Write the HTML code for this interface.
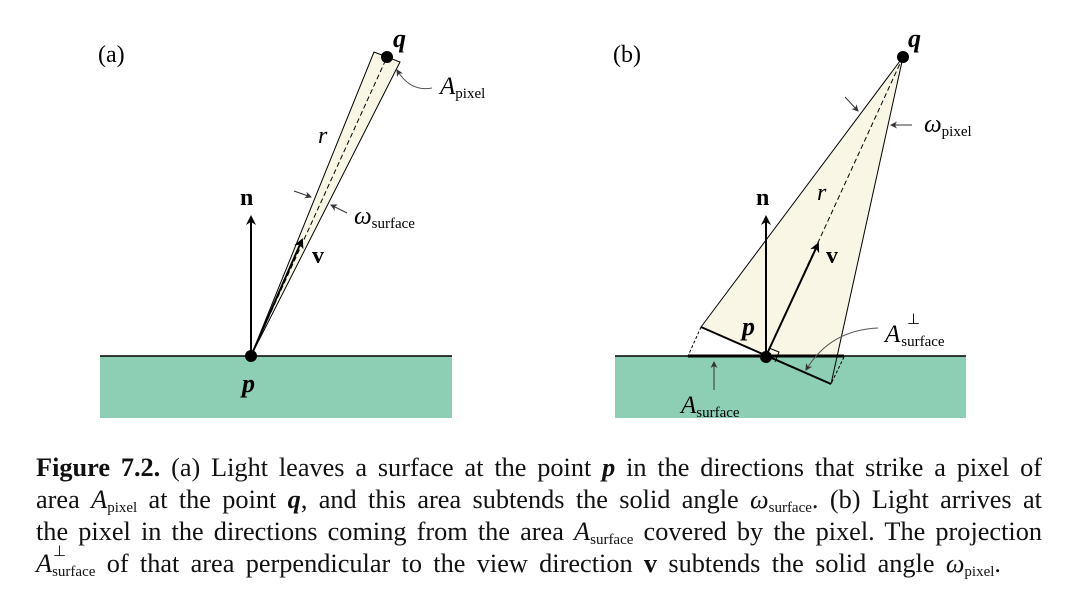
<!DOCTYPE html>
<html><head><meta charset="utf-8"><style>
body{margin:0;width:1078px;height:606px;background:#fff;position:relative;overflow:hidden;font-family:"Liberation Serif",serif;}
.cap{position:absolute;left:36px;width:1006px;font-size:26.3px;line-height:32px;text-align:justify;text-align-last:justify;white-space:nowrap;color:#111}
.cap sub{font-size:15px;vertical-align:-4px;line-height:0}
.as{display:inline-block;position:relative}
.as .p{position:absolute;left:17px;top:-12px;font-size:15px}
</style></head><body>
<svg width="1078" height="450" style="position:absolute;left:0;top:0" font-family="Liberation Serif, serif">
<defs><marker id="ah" markerWidth="10" markerHeight="10" refX="8" refY="5" orient="auto" markerUnits="userSpaceOnUse"><path d="M0,0 L10,5 L0,10 L3,5z" fill="#000"/></marker>
<marker id="sa" markerWidth="7" markerHeight="7" refX="6" refY="3.5" orient="auto" markerUnits="userSpaceOnUse"><path d="M0,0 L7,3.5 L0,7 L2,3.5z" fill="#333"/></marker></defs>
<rect x="100" y="356" width="352" height="62" fill="#8dcfb5"/>
<line x1="100" y1="356" x2="452" y2="356" stroke="#000" stroke-width="1.5"/>
<polygon points="251,356 374,52 400,62" fill="#faf6e6" stroke="#000" stroke-width="1"/>
<line x1="251" y1="356" x2="387" y2="57" stroke="#000" stroke-width="1" stroke-dasharray="5,3"/>
<line x1="251" y1="356" x2="251" y2="217" stroke="#000" stroke-width="2" marker-end="url(#ah)"/>
<line x1="251" y1="356" x2="302" y2="240" stroke="#000" stroke-width="2" marker-end="url(#ah)"/>
<circle cx="251" cy="356" r="6" fill="#000"/>
<circle cx="387" cy="57" r="6" fill="#000"/>
<line x1="294" y1="191" x2="311" y2="197" stroke="#333" stroke-width="1" marker-end="url(#sa)"/>
<line x1="347" y1="213" x2="331" y2="205" stroke="#333" stroke-width="1" marker-end="url(#sa)"/>
<path d="M432,88 Q410,92 397,70" fill="none" stroke="#555" stroke-width="1" marker-end="url(#sa)"/>
<text x="98" y="62" font-size="24">(a)</text>
<text x="393" y="47" font-size="26" font-weight="bold" font-style="italic">q</text>
<text x="440" y="94" font-size="25" font-style="italic">A<tspan font-size="15" font-style="normal" dy="4">pixel</tspan></text>
<text x="318" y="143" font-size="24" font-style="italic">r</text>
<text x="240" y="205" font-size="24" font-weight="bold">n</text>
<text x="312" y="263" font-size="24" font-weight="bold">v</text>
<text x="354" y="224" font-size="25" font-style="italic">ω<tspan font-size="15" font-style="normal" dy="4">surface</tspan></text>
<text x="242" y="392" font-size="26" font-weight="bold" font-style="italic">p</text>
<rect x="615" y="356" width="351" height="62" fill="#8dcfb5"/>
<polygon points="903,57 701,327 766,356 838,356" fill="#faf6e6"/>
<line x1="903" y1="57" x2="701" y2="327" stroke="#000" stroke-width="1"/>
<line x1="903" y1="57" x2="831" y2="384" stroke="#000" stroke-width="1"/>
<line x1="903" y1="57" x2="766" y2="356" stroke="#000" stroke-width="1" stroke-dasharray="5,3"/>
<line x1="615" y1="356" x2="966" y2="356" stroke="#000" stroke-width="1.5"/>
<line x1="688" y1="356" x2="844" y2="356" stroke="#000" stroke-width="3"/>
<line x1="701" y1="327" x2="831" y2="384" stroke="#000" stroke-width="2"/>
<line x1="701" y1="327" x2="688" y2="356" stroke="#000" stroke-width="1" stroke-dasharray="3,2"/>
<line x1="844" y1="357" x2="831" y2="384" stroke="#000" stroke-width="1" stroke-dasharray="3,2"/>
<polyline points="769,348 779,352 775,362" fill="none" stroke="#000" stroke-width="1"/>
<line x1="766" y1="356" x2="766" y2="217" stroke="#000" stroke-width="2" marker-end="url(#ah)"/>
<line x1="766" y1="356" x2="818" y2="244" stroke="#000" stroke-width="2" marker-end="url(#ah)"/>
<circle cx="766" cy="357" r="6" fill="#000"/>
<circle cx="903" cy="57" r="6" fill="#000"/>
<line x1="845" y1="97" x2="858" y2="111" stroke="#333" stroke-width="1" marker-end="url(#sa)"/>
<line x1="912" y1="125" x2="891" y2="125" stroke="#333" stroke-width="1" marker-end="url(#sa)"/>
<line x1="714" y1="390" x2="714" y2="362" stroke="#333" stroke-width="1" marker-end="url(#sa)"/>
<path d="M878,328 Q830,330 806,370" fill="none" stroke="#555" stroke-width="1" marker-end="url(#sa)"/>
<text x="613" y="62" font-size="24">(b)</text>
<text x="908" y="47" font-size="26" font-weight="bold" font-style="italic">q</text>
<text x="924" y="132" font-size="25" font-style="italic">ω<tspan font-size="15" font-style="normal" dy="4">pixel</tspan></text>
<text x="817" y="200" font-size="24" font-style="italic">r</text>
<text x="756" y="205" font-size="24" font-weight="bold">n</text>
<text x="826" y="263" font-size="24" font-weight="bold">v</text>
<text x="742" y="335" font-size="26" font-weight="bold" font-style="italic">p</text>
<text x="885" y="342" font-size="25" font-style="italic">A<tspan font-size="15" font-style="normal" dx="1" dy="4">surface</tspan></text>
<text x="907" y="324" font-size="15">⊥</text>
<text x="681" y="413" font-size="25" font-style="italic">A<tspan font-size="15" font-style="normal" dy="4">surface</tspan></text>
</svg>
<div class="cap" style="top:452px"><b>Figure 7.2.</b> (a) Light leaves a surface at the point <b><i>p</i></b> in the directions that strike a pixel of</div>
<div class="cap" style="top:484px">area <i>A</i><sub>pixel</sub> at the point <b><i>q</i></b>, and this area subtends the solid angle <i>ω</i><sub>surface</sub>. (b) Light arrives at</div>
<div class="cap" style="top:516px">the pixel in the directions coming from the area <i>A</i><sub>surface</sub> covered by the pixel. The projection</div>
<div class="cap" style="top:548px;width:965px"><span class="as"><i>A</i><sub>surface</sub><span class="p">⊥</span></span> of that area perpendicular to the view direction <b>v</b> subtends the solid angle <i>ω</i><sub>pixel</sub>.</div>
</body></html>
